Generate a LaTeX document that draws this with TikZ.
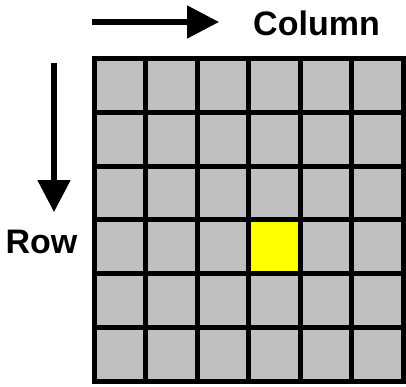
\documentclass[tikz,border=0pt]{standalone}
\usepackage{fontspec}
\setmainfont{Liberation Sans}
\usepackage{xcolor}
\usepackage{tikz}
\usetikzlibrary{arrows.meta, positioning}
\definecolor{gris}{HTML}{C0C0C0}
\definecolor{amarillo}{HTML}{FFFF00}
\tikzset{
  celda/.style={rectangle, draw=black, line width=2.5pt, fill=gris,
    minimum width=25.75pt, minimum height=26.9pt, inner sep=0pt, outer sep=0pt},
  marcada/.style={celda, fill=amarillo},
  flecha/.style={-{Triangle[length=16pt, width=16pt]}, line width=2.6pt},
  etiqueta/.style={font=\fontsize{17}{20}\selectfont\bfseries, anchor=base, inner sep=0pt}
}

\begin{document}
\begin{tikzpicture}[x=0.5pt, y=-0.5pt]
  \useasboundingbox (0,0) rectangle (406,386);

  % --- Rejilla 6x6 ---
  \foreach \f in {1,...,6} {
    \foreach \c in {1,...,6} {
      \ifnum\f\c=44 \def\estilo{marcada}\else\def\estilo{celda}\fi
      \node[\estilo] (c-\f-\c) at ({94+(\c-0.5)*51.5}, {58.5+(\f-0.5)*53.8}) {};
    }
  }

  % --- Flechas y etiquetas ---
  \coordinate (colini) at (92,22);
  \coordinate (colfin) at (219,22);
  \draw[flecha] (colini) -- (colfin);
  \node[etiqueta] (columna) at (316.5,35) {Column};

  \coordinate (filini) at (54,63);
  \coordinate (filfin) at (54,212);
  \draw[flecha] (filini) -- (filfin);
  \node[etiqueta] (fila) at (41.5,253) {Row};

\end{tikzpicture}
\end{document}
